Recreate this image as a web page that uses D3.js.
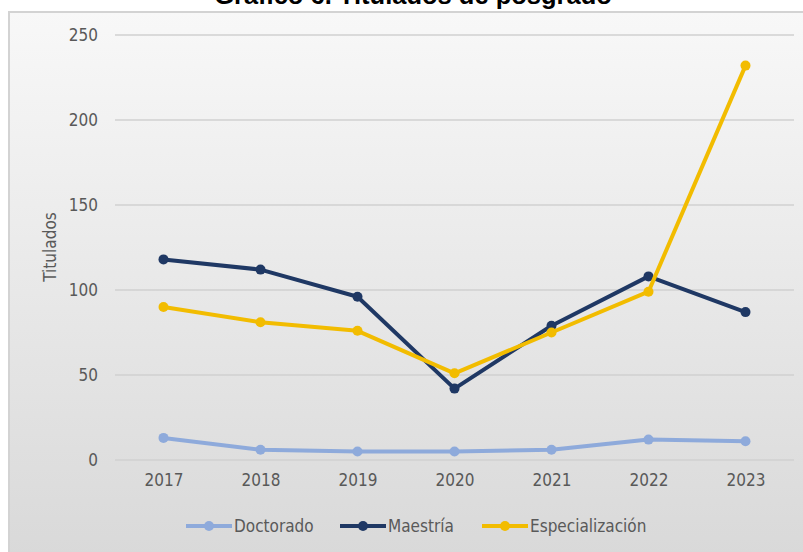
<!DOCTYPE html>
<html lang="es">
<head>
<meta charset="utf-8">
<title>Gráfico 6. Titulados de posgrado</title>
<script src="https://cdn.jsdelivr.net/npm/d3@7"></script>
<style>
  body { margin: 0; background: #ffffff; }
  svg { display: block; }
  .tick text, .lbl { font-family: "Liberation Sans Narrow", "DejaVu Sans Condensed", sans-serif; fill: #595959; }
  .title { font-family: "Liberation Sans", Arial, sans-serif; font-weight: bold; fill: #000; }
</style>
</head>
<body>
<script>
// data
var years = ["2017", "2018", "2019", "2020", "2021", "2022", "2023"];
var doctorado = [13, 6, 5, 5, 6, 12, 11];
var maestria = [118, 112, 96, 42, 79, 108, 87];
var especializacion = [90, 81, 76, 51, 75, 99, 232];
var yTicks = [0, 50, 100, 150, 200, 250];

var series = [
  { name: "Doctorado", values: doctorado, color: "#8eaadb" },
  { name: "Maestría", values: maestria, color: "#1f3864" },
  { name: "Especialización", values: especializacion, color: "#f2bc00" }
];

var w = 803, h = 552;

var svg = d3.select("body").append("svg")
  .attr("width", w)
  .attr("height", h);

// background panel with soft gradient
var grad = svg.append("defs").append("linearGradient")
  .attr("id", "bg")
  .attr("x1", 0).attr("y1", 0).attr("x2", 0).attr("y2", 1);
grad.append("stop").attr("offset", "0%").attr("stop-color", "#f8f8f8");
grad.append("stop").attr("offset", "100%").attr("stop-color", "#d8d8d8");

svg.append("rect")
  .attr("x", 9).attr("y", 12)
  .attr("width", 800).attr("height", 560)
  .attr("fill", "url(#bg)")
  .attr("stroke", "#d3d3d3")
  .attr("stroke-width", 2);

// title (partly cut off at the top, as in the original)
svg.append("text")
  .attr("class", "title")
  .attr("x", 413)
  .attr("y", 4)
  .attr("text-anchor", "middle")
  .style("font-size", "25.5px")
  .text("Gráfico 6. Titulados de posgrado");

// scales
var x = d3.scalePoint()
  .domain(years)
  .range([115, 794])
  .padding(0.5);

var y = d3.scaleLinear()
  .domain([0, 250])
  .range([460, 35]);

// grid lines
svg.append("g")
  .selectAll("line")
  .data(yTicks)
  .enter()
  .append("line")
  .attr("x1", 115)
  .attr("x2", 794)
  .attr("y1", function(d) { return y(d); })
  .attr("y2", function(d) { return y(d); })
  .attr("stroke", "#d0d0d0")
  .attr("stroke-width", 1.3);

// axes
var yAxis = svg.append("g")
  .attr("transform", "translate(98,0)")
  .call(d3.axisLeft(y).tickValues(yTicks).tickSize(0).tickPadding(0));
yAxis.select(".domain").remove();
yAxis.selectAll("text").style("font-size", "17px").attr("dy", "0.35em");

var xAxis = svg.append("g")
  .attr("transform", "translate(0,472)")
  .call(d3.axisBottom(x).tickSize(0).tickPadding(0));
xAxis.select(".domain").remove();
xAxis.selectAll("text").style("font-size", "17px").attr("dy", "0.8em");

// y axis title
svg.append("text")
  .attr("class", "lbl")
  .attr("transform", "translate(56,247) rotate(-90)")
  .attr("text-anchor", "middle")
  .style("font-size", "17px")
  .text("Titulados");

// lines and markers
var line = d3.line()
  .x(function(d, i) { return x(years[i]); })
  .y(function(d) { return y(d); });

series.forEach(function(s) {
  var g = svg.append("g");
  g.append("path")
    .datum(s.values)
    .attr("d", line)
    .attr("fill", "none")
    .attr("stroke", s.color)
    .attr("stroke-width", 4)
    .attr("stroke-linejoin", "round");
  g.selectAll("circle")
    .data(s.values)
    .enter()
    .append("circle")
    .attr("cx", function(d, i) { return x(years[i]); })
    .attr("cy", function(d) { return y(d); })
    .attr("r", 5)
    .attr("fill", s.color);
});

// legend
var legendX = [186, 340, 482];
var legend = svg.append("g")
  .selectAll("g")
  .data(series)
  .enter()
  .append("g")
  .attr("transform", function(d, i) { return "translate(" + legendX[i] + ",526)"; });

legend.append("line")
  .attr("x1", 0).attr("x2", 46)
  .attr("y1", 0).attr("y2", 0)
  .attr("stroke", function(d) { return d.color; })
  .attr("stroke-width", 4);
legend.append("circle")
  .attr("cx", 23).attr("cy", 0).attr("r", 5)
  .attr("fill", function(d) { return d.color; });
legend.append("text")
  .attr("class", "lbl")
  .attr("x", 48)
  .attr("y", 0)
  .attr("dy", "0.35em")
  .style("font-size", "17px")
  .text(function(d) { return d.name; });
</script>
</body>
</html>
